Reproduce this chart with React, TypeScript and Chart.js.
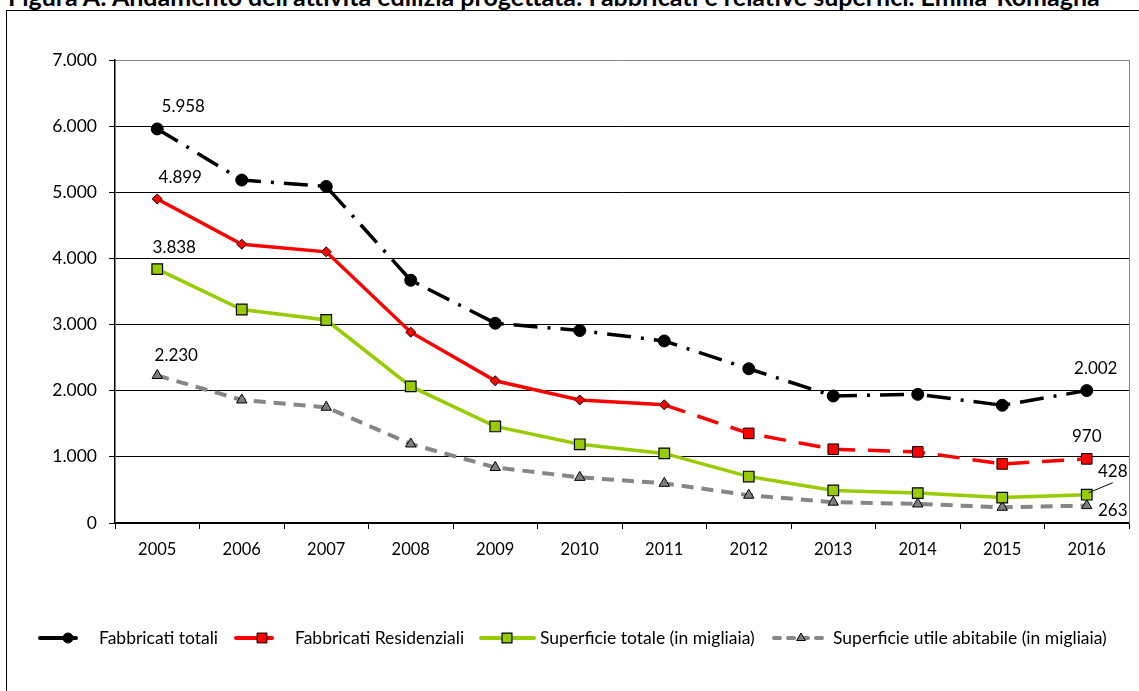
import { useEffect, useRef } from "react";
import { Chart, registerables } from "chart.js";
import { drawPoint } from "chart.js/helpers";

Chart.register(...registerables);

const titleText =
  "Figura A: Andamento dell'attività edilizia progettata: Fabbricati e relative superfici. Emilia-Romagna";

const years = ["2005", "2006", "2007", "2008", "2009", "2010", "2011", "2012", "2013", "2014", "2015", "2016"];
const fabbricatiTotali = [5958, 5185, 5088, 3670, 3020, 2910, 2752, 2332, 1920, 1945, 1780, 2002];
const fabbricatiResidenziali = [4899, 4215, 4100, 2885, 2150, 1860, 1787, 1355, 1115, 1075, 893, 970];
const superficieTotale = [3838, 3228, 3069, 2065, 1460, 1190, 1052, 702, 492, 452, 384, 428];
const superficieUtile = [2230, 1860, 1750, 1195, 840, 690, 600, 420, 315, 288, 238, 263];
const seriesNames = [
  "Fabbricati totali",
  "Fabbricati Residenziali",
  "Superficie totale (in migliaia)",
  "Superficie utile abitabile (in migliaia)",
];
const yMin = 0;
const yMax = 7000;
const yStep = 1000;

const FONT = "Lato";

const fmt = (n: number) => String(n).replace(/\B(?=(\d{3})+(?!\d))/g, ".");

// labels: dataset index, point index, offset of the label from its point
const dataLabels = [
  { ds: 0, i: 0, dx: 26, dy: -22 },
  { ds: 1, i: 0, dx: 23, dy: -21 },
  { ds: 2, i: 0, dx: 17, dy: -22 },
  { ds: 3, i: 0, dx: 19, dy: -20 },
  { ds: 0, i: 11, dx: 9, dy: -22 },
  { ds: 1, i: 11, dx: 0, dy: -22 },
  { ds: 2, i: 11, dx: 26, dy: -23, leader: true },
  { ds: 3, i: 11, dx: 26, dy: 5 },
];

// legend item layout (line start, line end, marker x, text x)
const legendLayout = [
  { x0: 40, x1: 76, mx: 68, tx: 99 },
  { x0: 236, x1: 272, mx: 262, tx: 295 },
  { x0: 481, x1: 534, mx: 507, tx: 540 },
  { x0: 774, x1: 823, mx: 801, tx: 833 },
];
const legendY = 638;

export default function App() {
  const ref = useRef<HTMLCanvasElement | null>(null);

  useEffect(() => {
    if (!ref.current) return;

    const labelsPlugin = {
      id: "dataLabels",
      afterDatasetsDraw(chart: any) {
        const ctx = chart.ctx;
        ctx.save();
        ctx.font = `17px ${FONT}`;
        ctx.fillStyle = "#000";
        ctx.textAlign = "center";
        ctx.textBaseline = "middle";
        dataLabels.forEach((l) => {
          const pt = chart.getDatasetMeta(l.ds).data[l.i];
          const v = chart.data.datasets[l.ds].data[l.i] as number;
          const x = pt.x + l.dx;
          const y = pt.y + l.dy;
          if (l.leader) {
            ctx.strokeStyle = "#000";
            ctx.lineWidth = 1;
            ctx.beginPath();
            ctx.moveTo(pt.x + 2, pt.y - 2);
            ctx.lineTo(x, y + 11);
            ctx.stroke();
          }
          ctx.fillText(fmt(v), x, y);
        });
        ctx.restore();
      },
    };

    const framePlugin = {
      id: "frame",
      beforeDatasetsDraw(chart: any) {
        const { ctx, chartArea } = chart;
        ctx.save();
        ctx.strokeStyle = "#868686";
        ctx.lineWidth = 1;
        ctx.beginPath();
        ctx.moveTo(chartArea.right + 0.5, chartArea.top);
        ctx.lineTo(chartArea.right + 0.5, chartArea.bottom);
        ctx.stroke();
        ctx.restore();
      },
    };

    const legendPlugin = {
      id: "customLegend",
      afterDraw(chart: any) {
        const ctx = chart.ctx;
        ctx.save();
        chart.data.datasets.forEach((ds: any, k: number) => {
          const L = legendLayout[k];
          ctx.strokeStyle = ds.borderColor;
          ctx.lineWidth = 4;
          ctx.lineCap = "round";
          ctx.setLineDash(ds.legendDash || []);
          ctx.beginPath();
          ctx.moveTo(L.x0, legendY);
          ctx.lineTo(L.x1, legendY);
          ctx.stroke();
          ctx.setLineDash([]);
          ctx.lineCap = "butt";
          ctx.fillStyle = ds.pointBackgroundColor;
          ctx.strokeStyle = ds.pointBorderColor;
          ctx.lineWidth = ds.pointBorderWidth;
          drawPoint(
            ctx,
            { pointStyle: ds.legendPointStyle, radius: ds.legendPointRadius, rotation: 0, borderWidth: ds.pointBorderWidth },
            L.mx,
            legendY
          );
          ctx.font = `17.5px ${FONT}`;
          ctx.fillStyle = "#000";
          ctx.textAlign = "left";
          ctx.textBaseline = "middle";
          ctx.fillText(ds.label, L.tx, legendY);
        });
        ctx.restore();
      },
    };

    const chart = new Chart(ref.current, {
      type: "line",
      data: {
        labels: years,
        datasets: [
          {
            label: seriesNames[0],
            data: fabbricatiTotali,
            borderColor: "#000000",
            borderWidth: 3.5,
            borderDash: [24, 10, 3, 10],
            pointStyle: "circle",
            pointRadius: 6,
            pointBackgroundColor: "#000000",
            pointBorderColor: "#000000",
            pointBorderWidth: 1,
            legendPointStyle: "circle",
            legendPointRadius: 5,
            legendDash: [],
            tension: 0,
          } as any,
          {
            label: seriesNames[1],
            data: fabbricatiResidenziali,
            borderColor: "#ff0000",
            borderWidth: 3.5,
            segment: {
              borderDash: (c: any) => (c.p0DataIndex >= 6 ? [22, 13] : undefined),
            },
            pointStyle: fabbricatiResidenziali.map((_, i) => (i <= 6 ? "rectRot" : "rect")),
            pointRadius: fabbricatiResidenziali.map((_, i) => (i <= 6 ? 5 : 7.5)),
            pointBackgroundColor: "#ff0000",
            pointBorderColor: "#000000",
            pointBorderWidth: 1,
            legendPointStyle: "rect",
            legendPointRadius: 7,
            legendDash: [],
            tension: 0,
          } as any,
          {
            label: seriesNames[2],
            data: superficieTotale,
            borderColor: "#99cc00",
            borderWidth: 3.5,
            pointStyle: "rect",
            pointRadius: 7.5,
            pointBackgroundColor: "#99cc00",
            pointBorderColor: "#000000",
            pointBorderWidth: 1.2,
            legendPointStyle: "rect",
            legendPointRadius: 7,
            legendDash: [],
            tension: 0,
          } as any,
          {
            label: seriesNames[3],
            data: superficieUtile,
            borderColor: "#868686",
            borderWidth: 4,
            borderDash: [12, 8],
            pointStyle: "triangle",
            pointRadius: 6,
            pointBackgroundColor: "#7f7f7f",
            pointBorderColor: "#000000",
            pointBorderWidth: 1,
            legendPointStyle: "triangle",
            legendPointRadius: 5,
            legendDash: [6, 8],
            tension: 0,
          } as any,
        ],
      },
      options: {
        animation: false,
        responsive: false,
        maintainAspectRatio: false,
        layout: { padding: { top: 60, right: 10, left: 0, bottom: 0 } },
        plugins: {
          legend: { display: false },
          tooltip: { enabled: false },
          title: { display: false },
        },
        scales: {
          x: {
            offset: true,
            afterFit: (s: any) => {
              s.height = 168;
            },
            grid: {
              offset: true,
              drawOnChartArea: false,
              drawTicks: true,
              tickLength: 6,
              color: "#000",
              tickColor: "#000",
            },
            border: { display: true, color: "#000", width: 1.5 },
            ticks: {
              font: { family: FONT, size: 16.5 },
              color: "#000",
              padding: 11,
              maxRotation: 0,
            },
          },
          y: {
            min: yMin,
            max: yMax,
            afterFit: (s: any) => {
              s.width = 115;
            },
            grid: {
              color: (c: any) => (c.tick && c.tick.value === yMax ? "#868686" : "#000"),
              tickColor: "#000",
              lineWidth: 1,
              drawTicks: true,
              tickLength: 6,
            },
            border: { display: true, color: "#000", width: 1.5 },
            ticks: {
              stepSize: yStep,
              font: { family: FONT, size: 17.5 },
              color: "#000",
              padding: 12,
              callback: (v: any) => fmt(Number(v)),
            },
          },
        },
      },
      plugins: [framePlugin, labelsPlugin, legendPlugin],
    });

    return () => chart.destroy();
  }, []);

  return (
    <div
      style={{
        position: "fixed",
        left: 0,
        top: 0,
        width: 1139,
        height: 691,
        overflow: "hidden",
        background: "#fff",
      }}
    >
      <div
        style={{
          position: "absolute",
          left: 8,
          top: -16,
          whiteSpace: "nowrap",
          fontFamily: FONT,
          fontWeight: 700,
          fontSize: 25,
          lineHeight: "25px",
          color: "#000",
        }}
      >
        {titleText}
      </div>
      <div
        style={{
          position: "absolute",
          left: 6,
          top: 10,
          width: 1200,
          height: 800,
          border: "1.5px solid #000",
        }}
      />
      <canvas
        ref={ref}
        width={1139}
        height={691}
        style={{ position: "absolute", left: 0, top: 0, width: 1139, height: 691 }}
      />
    </div>
  );
}
